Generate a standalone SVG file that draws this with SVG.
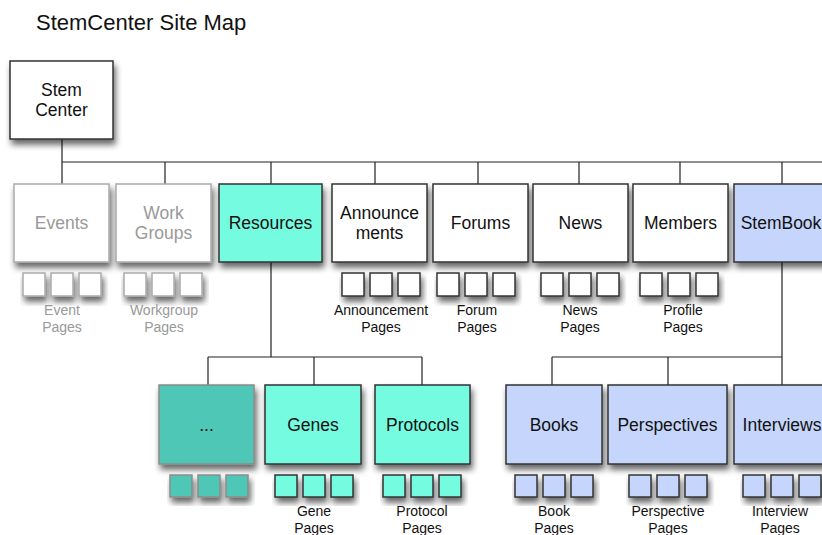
<svg xmlns="http://www.w3.org/2000/svg" width="822" height="535" viewBox="0 0 822 535">
<defs>
<filter id="sh" x="-20%" y="-20%" width="150%" height="160%">
<feGaussianBlur in="SourceAlpha" stdDeviation="3"/>
<feOffset dx="2" dy="5" result="b"/>
<feComponentTransfer><feFuncA type="linear" slope="0.6"/></feComponentTransfer>
<feMerge><feMergeNode/><feMergeNode in="SourceGraphic"/></feMerge>
</filter>
</defs>
<style>
text{font-family:"Liberation Sans",Arial,sans-serif;text-anchor:middle;fill:#111}
.t{font-size:22px;text-anchor:start}
.n{font-size:17.5px}
.p{font-size:14px}
.g{fill:#999}
rect{stroke:#333;stroke-width:1.5;filter:url(#sh)}
.w{fill:#fff}
.gw{fill:#fff;stroke:#aaa}
.c{fill:#74fbe0}
.d{fill:#4fc7b7;stroke:#8a8a8a}
.b{fill:#c6d5fb}
.e path{fill:none;stroke:#222;stroke-width:1.2}
</style>
<rect width="822" height="535" fill="#fff" style="stroke:none;filter:none"/>
<text class="t" x="36" y="30">StemCenter Site Map</text>

<g class="e" id="connectors">
<path d="M62 139V162H822M62 162V184M165 162V184M271 162V184M375 162V184M478 162V184M579 162V184M680 162V184M782 162V184"/>
<path d="M271 262V357M208 357H422M208 357V385M314 357V385M422 357V385"/>
<path d="M782 262V357M552 357H782M552 357V385M668 357V385M782 357V385"/>
</g>

<g id="stemcenter"><rect class="w" x="10" y="61" width="103" height="78"/><text class="n" x="61.5" y="96">Stem</text><text class="n" x="61.5" y="116">Center</text></g>

<g id="events"><rect class="gw" x="14" y="184" width="95" height="78"/><text class="n g" x="61.5" y="229">Events</text>
<rect class="gw" x="23" y="273" width="22" height="23"/><rect class="gw" x="51" y="273" width="22" height="23"/><rect class="gw" x="79" y="273" width="22" height="23"/>
<text class="p g" x="62" y="315">Event</text><text class="p g" x="62" y="332">Pages</text></g>

<g id="workgroups"><rect class="gw" x="116" y="184" width="95" height="78"/><text class="n g" x="163.5" y="219">Work</text><text class="n g" x="163.5" y="239">Groups</text>
<rect class="gw" x="124" y="273" width="22" height="23"/><rect class="gw" x="152" y="273" width="22" height="23"/><rect class="gw" x="180" y="273" width="22" height="23"/>
<text class="p g" x="164" y="315">Workgroup</text><text class="p g" x="164" y="332">Pages</text></g>

<g id="resources"><rect class="c" x="219" y="184" width="103" height="78"/><text class="n" x="270.5" y="229">Resources</text></g>

<g id="announcements"><rect class="w" x="332" y="184" width="95" height="78"/><text class="n" x="379.5" y="219">Announce</text><text class="n" x="379.5" y="239">ments</text>
<rect class="w" x="342" y="273" width="22" height="23"/><rect class="w" x="370" y="273" width="22" height="23"/><rect class="w" x="398" y="273" width="22" height="23"/>
<text class="p" x="381" y="315">Announcement</text><text class="p" x="381" y="332">Pages</text></g>

<g id="forums"><rect class="w" x="433" y="184" width="95" height="78"/><text class="n" x="480.5" y="229">Forums</text>
<rect class="w" x="437" y="273" width="22" height="23"/><rect class="w" x="465" y="273" width="22" height="23"/><rect class="w" x="493" y="273" width="22" height="23"/>
<text class="p" x="477" y="315">Forum</text><text class="p" x="477" y="332">Pages</text></g>

<g id="news"><rect class="w" x="533" y="184" width="95" height="78"/><text class="n" x="580.5" y="229">News</text>
<rect class="w" x="541" y="273" width="22" height="23"/><rect class="w" x="569" y="273" width="22" height="23"/><rect class="w" x="597" y="273" width="22" height="23"/>
<text class="p" x="580" y="315">News</text><text class="p" x="580" y="332">Pages</text></g>

<g id="members"><rect class="w" x="633" y="184" width="95" height="78"/><text class="n" x="680.5" y="229">Members</text>
<rect class="w" x="640" y="273" width="22" height="23"/><rect class="w" x="668" y="273" width="22" height="23"/><rect class="w" x="696" y="273" width="22" height="23"/>
<text class="p" x="683" y="315">Profile</text><text class="p" x="683" y="332">Pages</text></g>

<g id="stembook"><rect class="b" x="734" y="184" width="103" height="78"/><text class="n" x="781" y="229">StemBook</text></g>

<g id="more"><rect class="d" x="159" y="385" width="95" height="79"/><text class="n" x="206.5" y="431">...</text>
<rect class="d" x="170" y="475" width="22" height="22"/><rect class="d" x="198" y="475" width="22" height="22"/><rect class="d" x="226" y="475" width="22" height="22"/></g>

<g id="genes"><rect class="c" x="265" y="385" width="96" height="79"/><text class="n" x="313" y="431">Genes</text>
<rect class="c" x="275" y="475" width="22" height="22"/><rect class="c" x="303" y="475" width="22" height="22"/><rect class="c" x="331" y="475" width="22" height="22"/>
<text class="p" x="314" y="516">Gene</text><text class="p" x="314" y="533">Pages</text></g>

<g id="protocols"><rect class="c" x="375" y="385" width="95" height="79"/><text class="n" x="422.5" y="431">Protocols</text>
<rect class="c" x="383" y="475" width="22" height="22"/><rect class="c" x="411" y="475" width="22" height="22"/><rect class="c" x="439" y="475" width="22" height="22"/>
<text class="p" x="422" y="516">Protocol</text><text class="p" x="422" y="533">Pages</text></g>

<g id="books"><rect class="b" x="506" y="385" width="96" height="79"/><text class="n" x="554" y="431">Books</text>
<rect class="b" x="515" y="475" width="22" height="22"/><rect class="b" x="543" y="475" width="22" height="22"/><rect class="b" x="571" y="475" width="22" height="22"/>
<text class="p" x="554" y="516">Book</text><text class="p" x="554" y="533">Pages</text></g>

<g id="perspectives"><rect class="b" x="608" y="385" width="119" height="79"/><text class="n" x="667.5" y="431">Perspectives</text>
<rect class="b" x="629" y="475" width="22" height="22"/><rect class="b" x="657" y="475" width="22" height="22"/><rect class="b" x="685" y="475" width="22" height="22"/>
<text class="p" x="668" y="516">Perspective</text><text class="p" x="668" y="533">Pages</text></g>

<g id="interviews"><rect class="b" x="734" y="385" width="96" height="79"/><text class="n" x="782" y="431">Interviews</text>
<rect class="b" x="743" y="475" width="22" height="22"/><rect class="b" x="771" y="475" width="22" height="22"/><rect class="b" x="799" y="475" width="22" height="22"/>
<text class="p" x="780" y="516">Interview</text><text class="p" x="780" y="533">Pages</text></g>
</svg>
